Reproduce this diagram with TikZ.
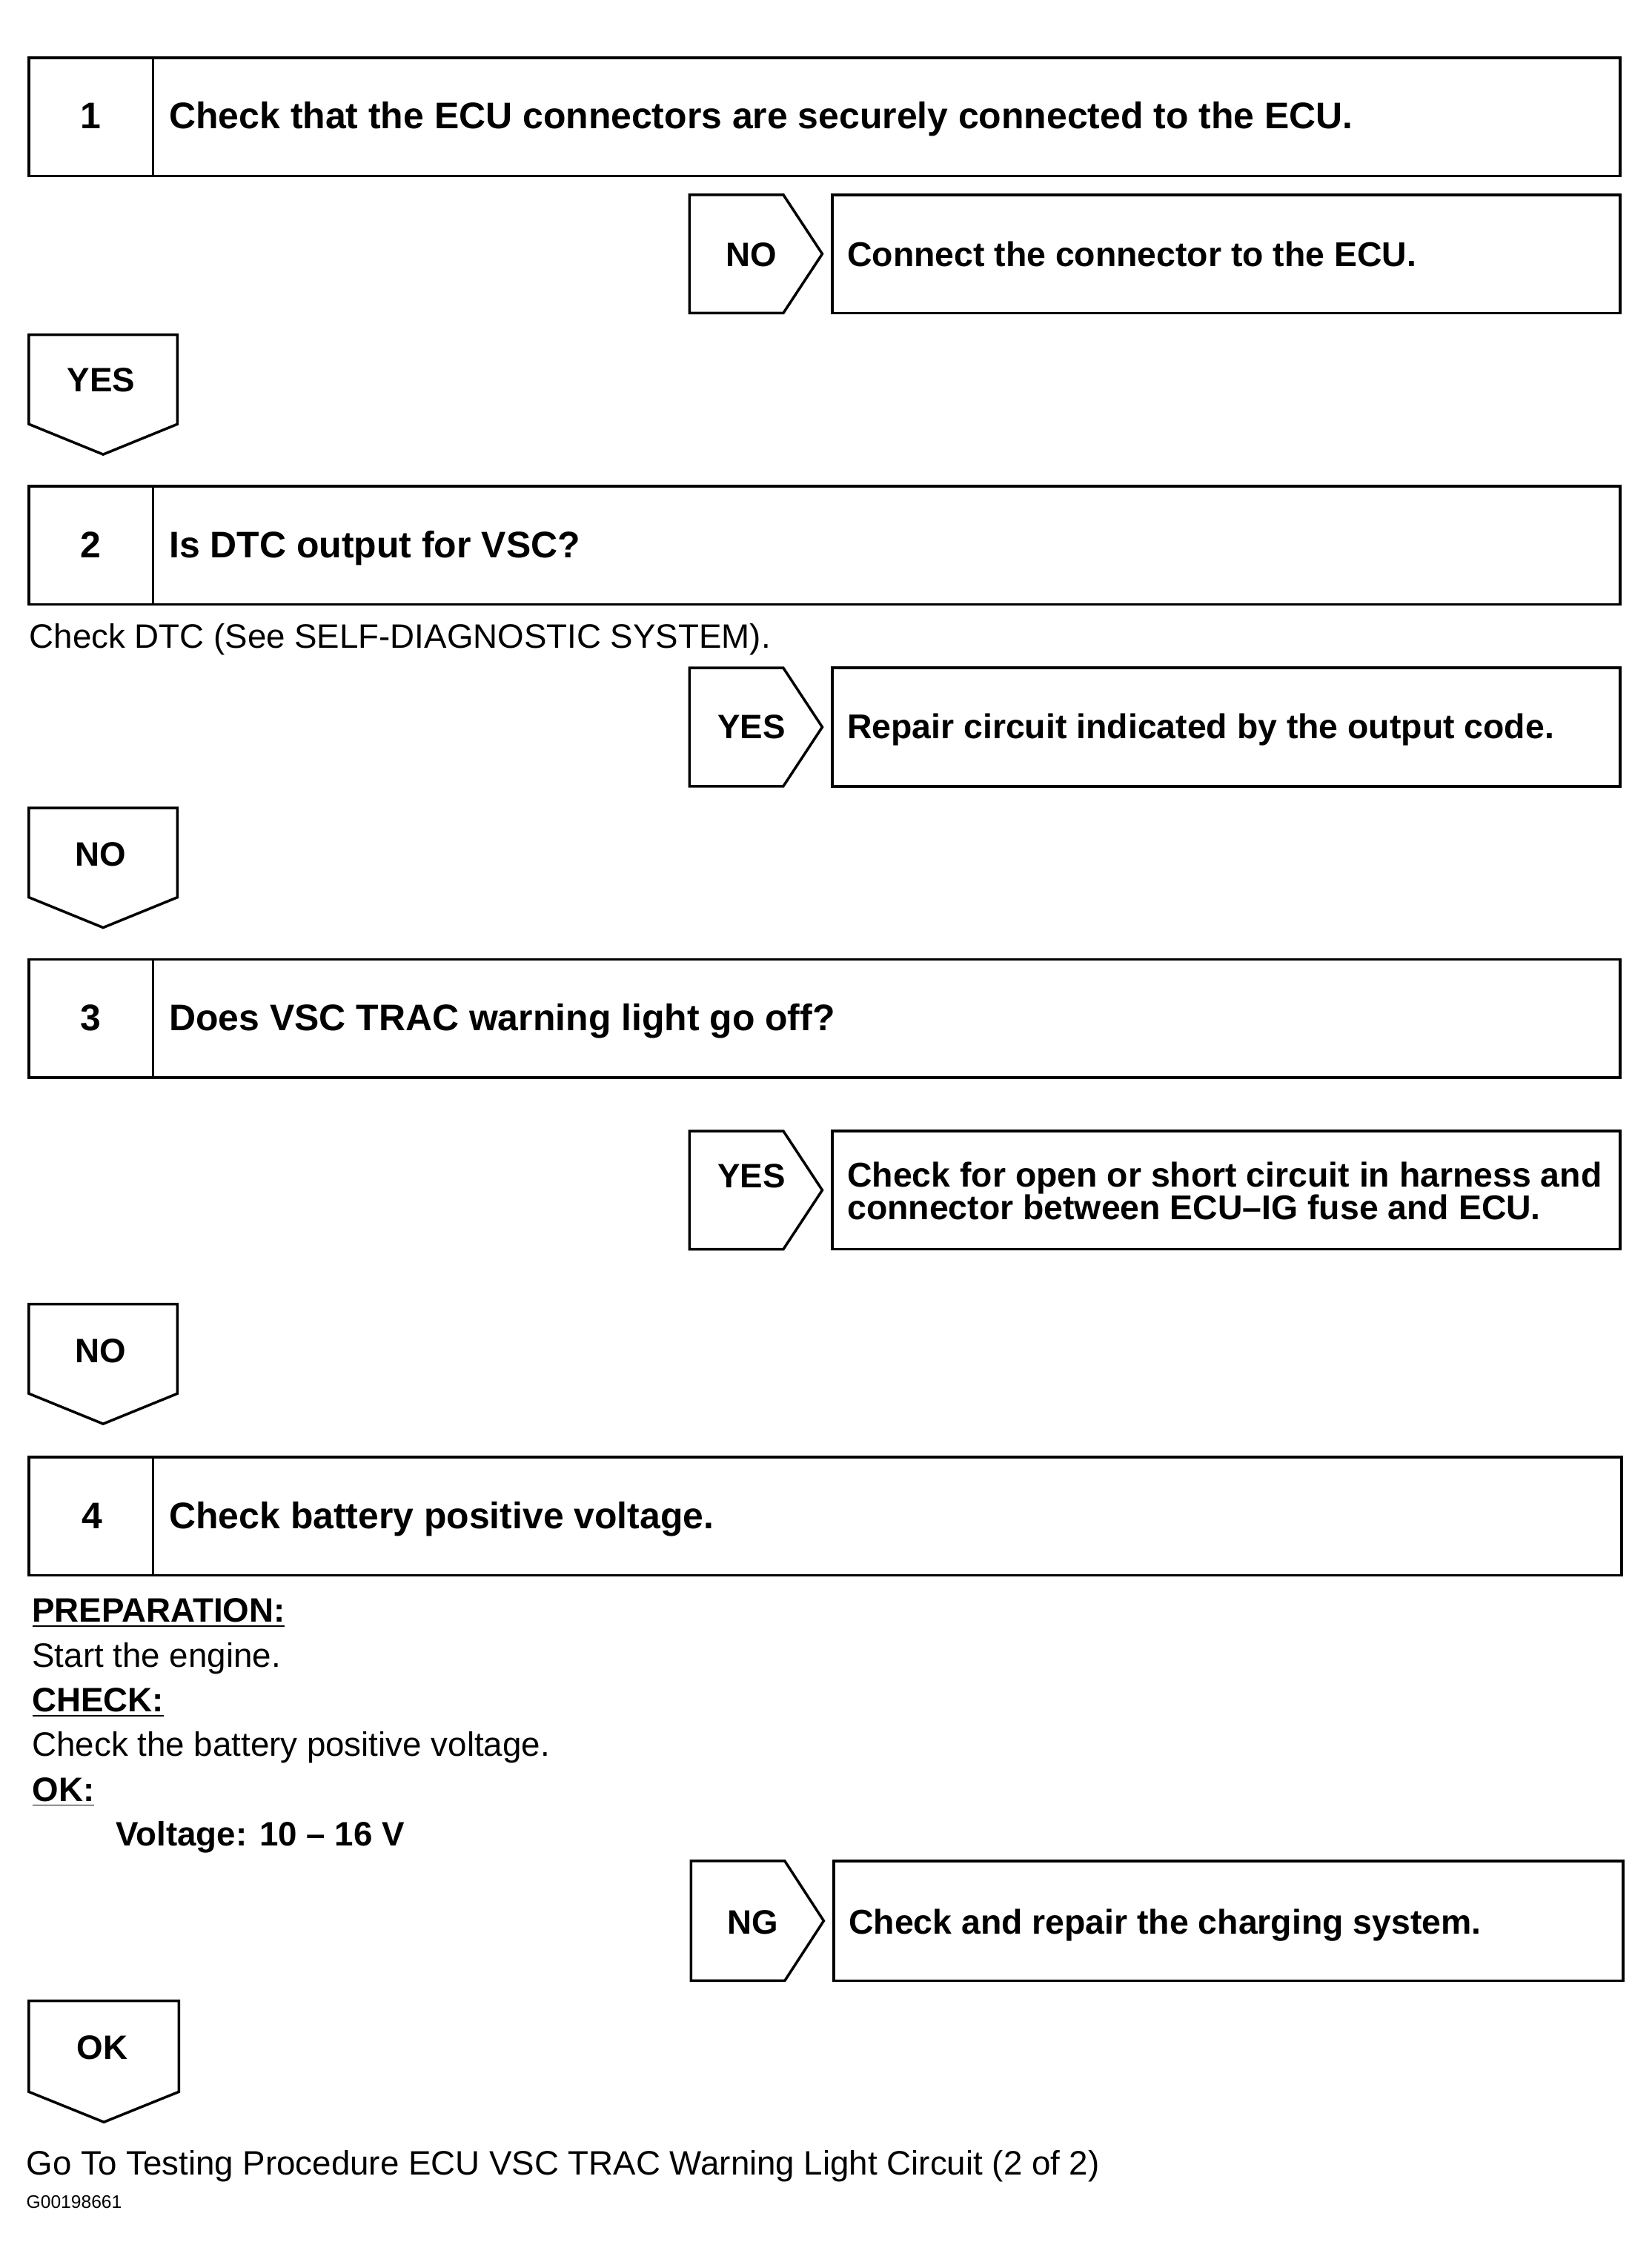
\documentclass[tikz,border=0pt]{standalone}
\usepackage{fontspec}
\setmainfont{Liberation Sans}
\usetikzlibrary{positioning}
\tikzset{
  outline/.style={draw=black, line width=1pt},
  bigbold/.style={font=\fontsize{13}{12.7}\selectfont\bfseries, inner sep=0pt},
  stepbold/.style={font=\fontsize{14.2}{14}\selectfont\bfseries, inner sep=0pt},
  stepnum/.style={stepbold, anchor=base},
  steptext/.style={stepbold, anchor=base west},
  restext/.style={font=\fontsize{13.2}{12.6}\selectfont\bfseries, inner sep=0pt, anchor=base west},
  tagtext/.style={bigbold, anchor=base},
  note/.style={font=\fontsize{13}{17}\selectfont, inner sep=0pt, anchor=base west},
  notehead/.style={note, font=\fontsize{13}{17}\selectfont\bfseries},
  figid/.style={font=\fontsize{7}{8}\selectfont, inner sep=0pt, anchor=base west},
}

\begin{document}
\begin{tikzpicture}[x=0.19467mm, y=-0.19467mm]
  \useasboundingbox (0,0) rectangle (1145,1568);
  % step 1
  \draw[outline] (20,40) rectangle (1123,122);
  \draw[outline] (106,40) -- (106,122);
  \node[stepnum] (num1) at (63,89) {1};
  \node[steptext] (step1) at (117,89) {Check that the ECU connectors are securely connected to the ECU.};
  % NO -> result
  \draw[outline] (478,135) -- (543,135) -- (570,176) -- (543,217) -- (478,217) -- cycle;
  \node[tagtext] (tag1no) at (521,184.5) {NO};
  \draw[outline] (577,135) rectangle (1123,217);
  \node[restext] (res1) at (587,184.5) {Connect the connector to the ECU.};
  % YES down
  \draw[outline] (20,232) -- (123,232) -- (123,294) -- (71.5,315) -- (20,294) -- cycle;
  \node[tagtext] (tag1yes) at (70,271.5) {YES};

  % step 2
  \draw[outline] (20,337) rectangle (1123,419);
  \draw[outline] (106,337) -- (106,419);
  \node[stepnum] (num2) at (63,386.5) {2};
  \node[steptext] (step2) at (117,386.5) {Is DTC output for VSC?};
  \node[note] (hint2) at (20,449.5) {Check DTC (See SELF-DIAGNOSTIC SYSTEM).};
  % YES -> result
  \draw[outline] (478,463) -- (543,463) -- (570,504) -- (543,545) -- (478,545) -- cycle;
  \node[tagtext] (tag2yes) at (521,512) {YES};
  \draw[outline] (577,463) rectangle (1123,545);
  \node[restext] (res2) at (587,512) {Repair circuit indicated by the output code.};
  % NO down
  \draw[outline] (20,560) -- (123,560) -- (123,622) -- (71.5,643) -- (20,622) -- cycle;
  \node[tagtext] (tag2no) at (70,600.5) {NO};

  % step 3
  \draw[outline] (20,665) rectangle (1123,747);
  \draw[outline] (106,665) -- (106,747);
  \node[stepnum] (num3) at (63,714.5) {3};
  \node[steptext] (step3) at (117,714.5) {Does VSC TRAC warning light go off?};
  % YES -> result
  \draw[outline] (478,784) -- (543,784) -- (570,825) -- (543,866) -- (478,866) -- cycle;
  \node[tagtext] (tag3yes) at (521,823.5) {YES};
  \draw[outline] (577,784) rectangle (1123,866);
  \node[restext, align=left] (res3) at (587,845.5)
    {Check for open or short circuit in harness and\\connector between ECU--IG fuse and ECU.};
  % NO down
  \draw[outline] (20,904) -- (123,904) -- (123,966) -- (71.5,987) -- (20,966) -- cycle;
  \node[tagtext] (tag3no) at (70,944.5) {NO};

  % step 4
  \draw[outline] (20,1010) rectangle (1124,1092);
  \draw[outline] (106,1010) -- (106,1092);
  \node[stepnum] (num4) at (64,1059.5) {4};
  \node[steptext] (step4) at (117,1059.5) {Check battery positive voltage.};
  \node[notehead] (prep) at (22,1124.5) {\underline{PREPARATION:}};
  \node[note] (prepline) at (22,1155.5) {Start the engine.};
  \node[notehead] (check) at (22,1186.5) {\underline{CHECK:}};
  \node[note] (checkline) at (22,1217.5) {Check the battery positive voltage.};
  \node[notehead] (okhead) at (22,1248.5) {\underline{OK:}};
  \node[notehead] (okline) at (80,1279.5) {Voltage: 10 -- 16 V};
  % NG -> result
  \draw[outline] (479,1290) -- (544,1290) -- (571,1331.5) -- (544,1373) -- (479,1373) -- cycle;
  \node[tagtext] (tag4ng) at (522,1340.5) {NG};
  \draw[outline] (578,1290) rectangle (1125,1373);
  \node[restext] (res4) at (588,1340.5) {Check and repair the charging system.};
  % OK down
  \draw[outline] (20,1387) -- (124,1387) -- (124,1450) -- (72,1471) -- (20,1450) -- cycle;
  \node[tagtext] (tag4ok) at (71,1427.5) {OK};

  \node[note] (goto) at (18,1507.5) {Go To Testing Procedure ECU VSC TRAC Warning Light Circuit (2 of 2)};
  \node[figid] (gid) at (18,1530.5) {G00198661};
\end{tikzpicture}
\end{document}
